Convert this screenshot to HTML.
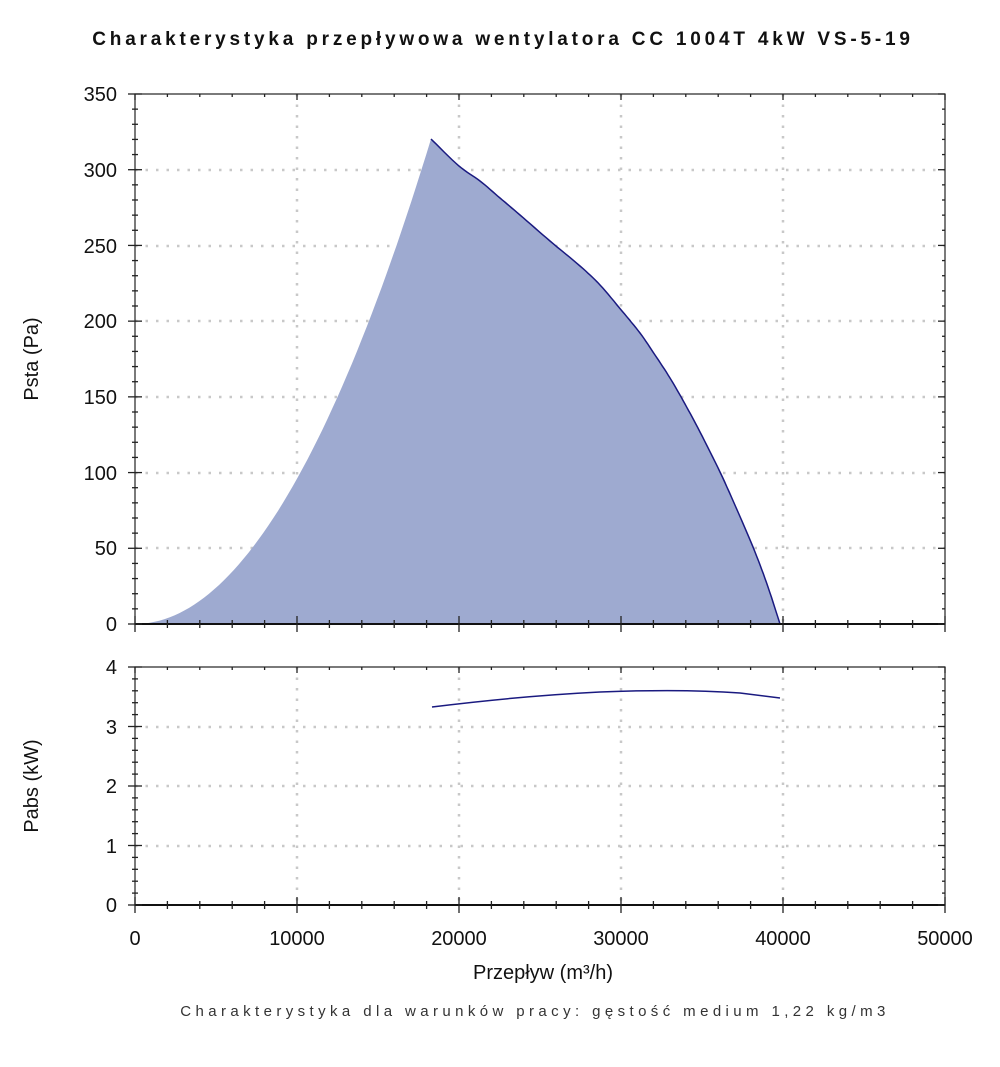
<!DOCTYPE html>
<html><head><meta charset="utf-8"><style>
body{margin:0;background:#fff;}
svg text{font-family:"Liberation Sans","DejaVu Sans",sans-serif;}
</style></head><body>
<svg width="1000" height="1062" xmlns="http://www.w3.org/2000/svg">
<text x="503" y="45" text-anchor="middle" font-size="19" font-weight="bold" letter-spacing="3.8" fill="#111">Charakterystyka przepływowa wentylatora CC 1004T 4kW VS-5-19</text>
<g stroke="#c8c8c8" stroke-width="2.5" stroke-dasharray="2.5 8">
<line x1="297" y1="94" x2="297" y2="624"/><line x1="459" y1="94" x2="459" y2="624"/><line x1="621" y1="94" x2="621" y2="624"/><line x1="783" y1="94" x2="783" y2="624"/>
<line x1="135" y1="170" x2="945" y2="170"/><line x1="135" y1="246" x2="945" y2="246"/><line x1="135" y1="321" x2="945" y2="321"/><line x1="135" y1="397" x2="945" y2="397"/><line x1="135" y1="473" x2="945" y2="473"/><line x1="135" y1="548" x2="945" y2="548"/>
<line x1="297" y1="667" x2="297" y2="905"/><line x1="459" y1="667" x2="459" y2="905"/><line x1="621" y1="667" x2="621" y2="905"/><line x1="783" y1="667" x2="783" y2="905"/>
<line x1="135" y1="727" x2="945" y2="727"/><line x1="135" y1="786" x2="945" y2="786"/><line x1="135" y1="846" x2="945" y2="846"/>
</g>
<path id="fill" fill="#9eaad0"/>
<path id="line" fill="none" stroke="#1a1a80" stroke-width="1.5"/>
<path d="M432,707 C480,701 540,695 600,692 C650,690 700,690 740,693 L780,698" fill="none" stroke="#1a1a80" stroke-width="1.5"/>
<g stroke="#222" stroke-width="1.2" fill="none">
<rect x="135" y="94" width="810" height="530"/>
<rect x="135" y="667" width="810" height="238"/>
</g>
<line x1="135" y1="624" x2="945" y2="624" stroke="#111" stroke-width="2"/>
<line x1="135" y1="905" x2="945" y2="905" stroke="#111" stroke-width="2"/>
<g id="ticks" stroke="#222" stroke-width="1.3"></g>
<g font-size="20" fill="#111" text-anchor="end">
<text x="117" y="101">350</text><text x="117" y="177">300</text><text x="117" y="253">250</text><text x="117" y="328">200</text><text x="117" y="404">150</text><text x="117" y="480">100</text><text x="117" y="555">50</text><text x="117" y="631">0</text>
<text x="117" y="674">4</text><text x="117" y="734">3</text><text x="117" y="793">2</text><text x="117" y="853">1</text><text x="117" y="912">0</text>
</g>
<g font-size="20" fill="#111" text-anchor="middle">
<text x="135" y="945">0</text><text x="297" y="945">10000</text><text x="459" y="945">20000</text><text x="621" y="945">30000</text><text x="783" y="945">40000</text><text x="945" y="945">50000</text>
<text x="543" y="979">Przepływ (m³/h)</text>
<text transform="translate(38,359) rotate(-90)">Psta (Pa)</text>
<text transform="translate(38,786) rotate(-90)">Pabs (kW)</text>
</g>
<text x="535" y="1016" text-anchor="middle" font-size="15" letter-spacing="4.4" fill="#333">Charakterystyka dla warunków pracy: gęstość medium 1,22 kg/m3</text>
</svg>
<script>
var g=document.getElementById('ticks'),s='';
function L(a,b,c,d){s+='<line x1="'+a+'" y1="'+b+'" x2="'+c+'" y2="'+d+'"/>';}
for(var i=0;i<=25;i++){var x=135+i*32.4,maj=i%5==0;
 L(x,624-(maj?8:4),x,624+(maj?8:4));L(x,94,x,94+(maj?6:3));
 L(x,905-(maj?8:4),x,905+(maj?8:4));L(x,667,x,667+(maj?6:3));}
for(var j=0;j<=35;j++){var y=624-j*15.143,m=j%5==0;L(135-(m?7:3),y,135+(m?7:3),y);L(945-(m?7:3),y,945,y);}
for(var k=0;k<=20;k++){var y2=905-k*11.9,m2=k%5==0;L(135-(m2?7:3),y2,135+(m2?7:3),y2);L(945-(m2?7:3),y2,945,y2);}
g.innerHTML=s;
// rising quadratic
var rise=[];
for(var t=0;t<=60;t++){var f=t/60;rise.push([135+296*f,624-485*f*f]);}
// descending smooth (catmull-rom)
var d=[[431,139],[459,166],[480,181],[500,198],[520,215],[550,241],[580,266],[600,285],[622,311],[640,333],[655,355],[670,378],[685,404],[700,432],[720,472],[738,512],[755,552],[768,587],[780,624]];
var desc=[];
for(var i=0;i<d.length-1;i++){var p0=d[Math.max(0,i-1)],p1=d[i],p2=d[i+1],p3=d[Math.min(d.length-1,i+2)];
 for(var q=0;q<8;q++){var u=q/8,u2=u*u,u3=u2*u;
  var xx=0.5*((2*p1[0])+(-p0[0]+p2[0])*u+(2*p0[0]-5*p1[0]+4*p2[0]-p3[0])*u2+(-p0[0]+3*p1[0]-3*p2[0]+p3[0])*u3);
  var yy=0.5*((2*p1[1])+(-p0[1]+p2[1])*u+(2*p0[1]-5*p1[1]+4*p2[1]-p3[1])*u2+(-p0[1]+3*p1[1]-3*p2[1]+p3[1])*u3);
  desc.push([xx,yy]);}}
desc.push([780,624]);
function P(a){return a.map(function(p,i){return (i?'L':'M')+p[0].toFixed(1)+','+p[1].toFixed(1);}).join('');}
document.getElementById('fill').setAttribute('d',P(rise.concat(desc))+'Z');
document.getElementById('line').setAttribute('d',P(desc));
</script>
</body></html>
